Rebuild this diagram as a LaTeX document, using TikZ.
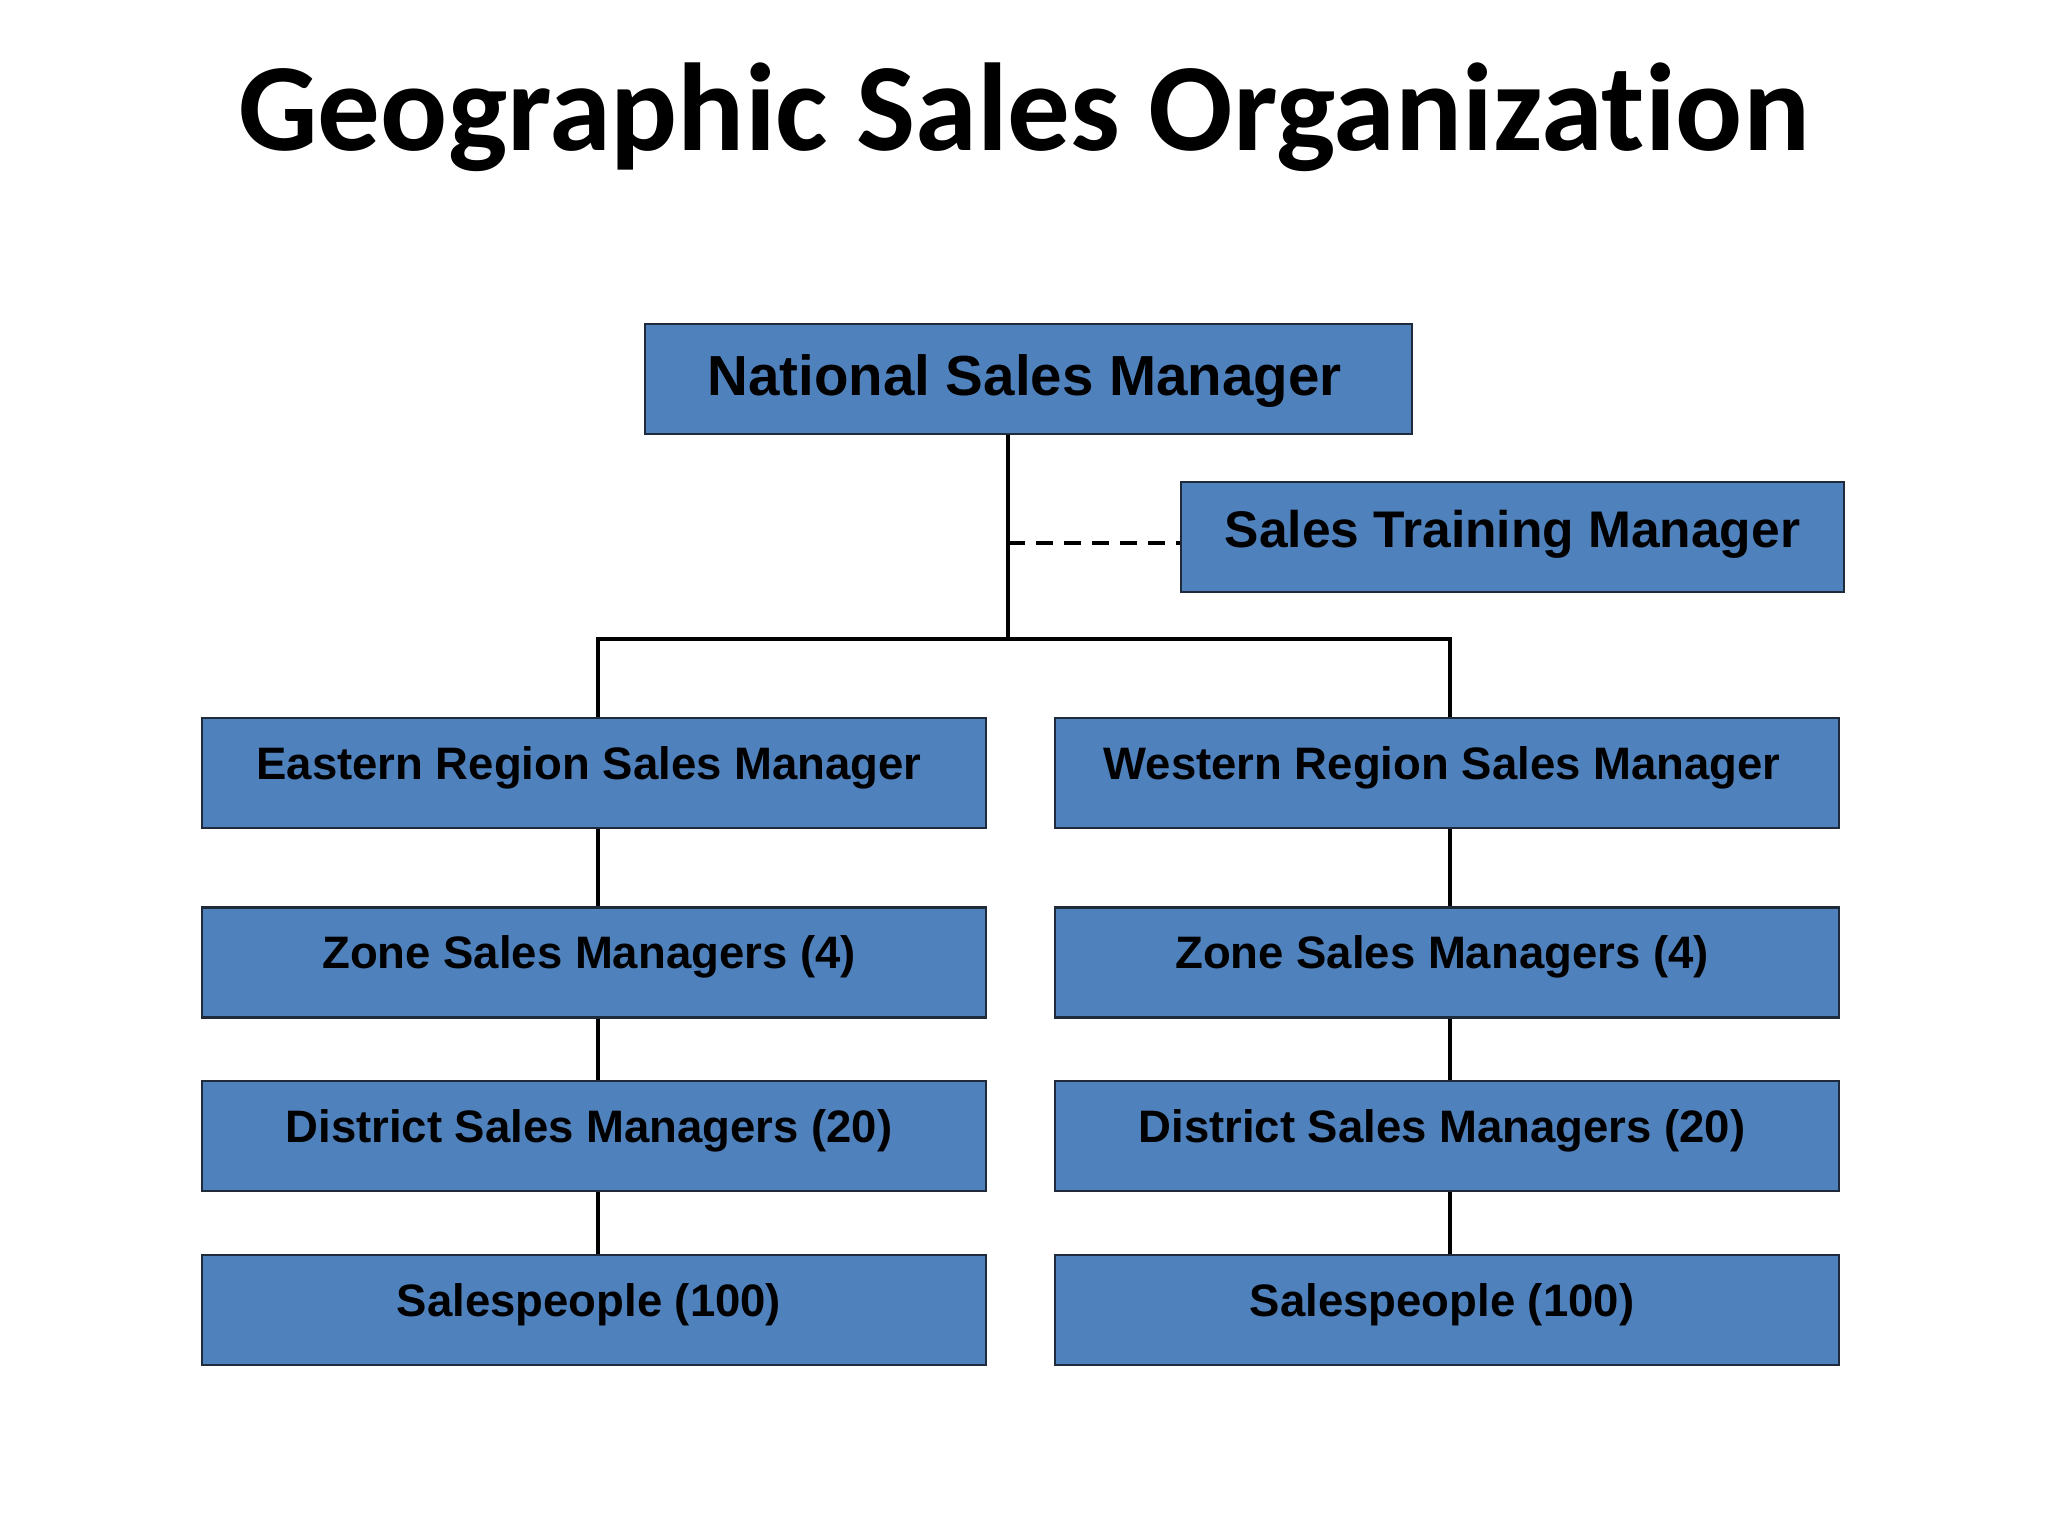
\documentclass[tikz,border=0pt]{standalone}
\usepackage{fontspec}
\setmainfont{Liberation Sans}
\newfontfamily\titlefont{Carlito}[Ligatures={NoCommon},BoldFont={* Bold},BoldFeatures={Ligatures={NoCommon}}]
\newfontfamily\boxfont{Liberation Sans}
\definecolor{boxblue}{HTML}{4F81BD}
\definecolor{boxedge}{HTML}{1F2A3A}
\begin{document}
\begin{tikzpicture}[x=1pt,y=-1pt,
  orgbox/.style={draw=boxedge,line width=2.5pt,fill=boxblue,rectangle,inner sep=0pt},
  lowbox/.style={orgbox,minimum width=784pt,minimum height=110pt,
    font=\boxfont\bfseries\fontsize{45.5}{50}\selectfont,text height=32.6pt,text depth=20pt,
    execute at end node={\hspace*{10pt}}},
  conn/.style={line width=4pt,black},
  dashconn/.style={line width=4pt,black,dash pattern=on 17pt off 11pt}]
\useasboundingbox (0,0) rectangle (2048,1536);
\fill[white] (0,0) rectangle (2048,1536);
\node[font=\titlefont\bfseries\fontsize{125}{130}\selectfont,anchor=base] (title) at (1024,150) {Geographic Sales Organization};
\node[orgbox,minimum width=767pt,minimum height=110pt,font=\boxfont\bfseries\fontsize{56.5}{62}\selectfont,text height=40.5pt,text depth=8pt,execute at end node={\hspace*{8pt}}] (nsm) at (1028.5,379) {National Sales Manager};
\node[orgbox,minimum width=663pt,minimum height=110pt,font=\boxfont\bfseries\fontsize{51.5}{56}\selectfont,text height=36.9pt,text depth=16pt] (stm) at (1512.5,537) {Sales Training Manager};
\node[lowbox] (erm) at (594,773) {Eastern Region Sales Manager};
\node[lowbox] (ezm) at (594,962.5) {Zone Sales Managers (4)};
\node[lowbox] (edm) at (594,1136) {District Sales Managers (20)};
\node[lowbox] (esp) at (594,1310) {Salespeople (100)};
\node[lowbox] (wrm) at (1447,773) {Western Region Sales Manager};
\node[lowbox] (wzm) at (1447,962.5) {Zone Sales Managers (4)};
\node[lowbox] (wdm) at (1447,1136) {District Sales Managers (20)};
\node[lowbox] (wsp) at (1447,1310) {Salespeople (100)};
\coordinate (trunk) at (1008,639);
\coordinate (dashpt) at (1008,543);
\coordinate (barL) at (598,639);
\coordinate (barR) at (1450,639);
\draw[conn] (nsm.south -| trunk) -- (trunk);
\draw[dashconn] (dashpt) -- (dashpt -| stm.west);
\draw[conn,line cap=rect] (barL) -- (barR);
\draw[conn] (barL) -- (barL |- erm.north);
\draw[conn] (barR) -- (barR |- wrm.north);
\draw[conn] (erm.south -| barL) -- (ezm.north -| barL);
\draw[conn] (ezm.south -| barL) -- (edm.north -| barL);
\draw[conn] (edm.south -| barL) -- (esp.north -| barL);
\draw[conn] (wrm.south -| barR) -- (wzm.north -| barR);
\draw[conn] (wzm.south -| barR) -- (wdm.north -| barR);
\draw[conn] (wdm.south -| barR) -- (wsp.north -| barR);
\end{tikzpicture}
\end{document}
